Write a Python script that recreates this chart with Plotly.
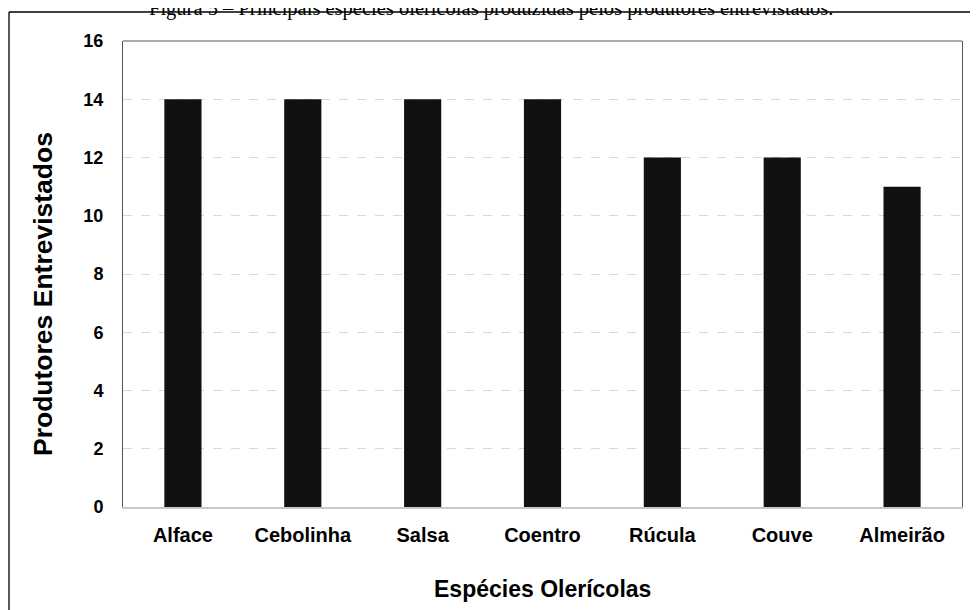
import plotly.graph_objects as go

categories = ["Alface", "Cebolinha", "Salsa", "Coentro", "Rúcula", "Couve", "Almeirão"]
values = [14, 14, 14, 14, 12, 12, 11]
y_ticks = [0, 2, 4, 6, 8, 10, 12, 14, 16]

W, H = 978, 610
OFF = 8  # page body margin
L, R, T, B = 123 - OFF, 978 - 962 + OFF, 41 - OFF, 610 - 507 + OFF
pw, ph = W - L - R, H - T - B

def px_x(x):
    return (x - OFF - L) / pw

def px_y(y):
    return (H - B - (y - OFF)) / ph

fig = go.Figure(go.Bar(x=categories, y=values, marker=dict(color="#111111", line=dict(width=0))))

fig.update_layout(
    width=W, height=H,
    margin=dict(l=L, r=R, t=T, b=B),
    paper_bgcolor="white", plot_bgcolor="white",
    bargap=0.69,
    showlegend=False,
    font=dict(family="Liberation Sans, Arial, sans-serif", color="black"),
)
fig.update_xaxes(
    showgrid=False, showline=True, linecolor="#c8c8c8", linewidth=2,
    ticks="", tickfont=dict(size=20, family="Liberation Sans, Arial", color="black", weight="bold"),
    ticklabelstandoff=9,
)
fig.update_yaxes(
    range=[0, 16], tickvals=y_ticks, showgrid=True, gridcolor="#d9d9d9", griddash="dash", gridwidth=1,
    showline=True, linecolor="#555555", linewidth=1, mirror=True, zeroline=False,
    ticks="", tickfont=dict(size=18, family="Liberation Sans, Arial", color="black", weight="bold"),
    ticklabelstandoff=15,
)
shapes = [
    dict(type="line", xref="paper", yref="paper", x0=0, x1=1, y0=1, y1=1, line=dict(color="#555555", width=1)),
    dict(type="line", xref="paper", yref="paper", x0=px_x(9), x1=px_x(9), y0=px_y(12), y1=px_y(640), line=dict(color="black", width=1.3)),
    dict(type="line", xref="paper", yref="paper", x0=px_x(9), x1=px_x(1000), y0=px_y(12), y1=px_y(12), line=dict(color="black", width=1.3)),
]
fig.update_layout(shapes=shapes)
fig.add_annotation(
    text="Figura 5 – Principais espécies olerícolas produzidas pelos produtores entrevistados.",
    xref="paper", yref="paper", x=px_x(491), y=px_y(9), xanchor="center", yanchor="middle",
    showarrow=False, font=dict(family="Liberation Serif, Times New Roman", size=20.5, color="black"),
)
fig.add_annotation(
    text="<b>Produtores Entrevistados</b>", xref="paper", yref="paper",
    x=px_x(43), y=px_y(294), xanchor="center", yanchor="middle", textangle=-90,
    showarrow=False, font=dict(size=26.5, color="black"),
)
fig.add_annotation(
    text="<b>Espécies Olerícolas</b>", xref="paper", yref="paper",
    x=px_x(542), y=px_y(589), xanchor="center", yanchor="middle",
    showarrow=False, font=dict(size=23, color="black"),
)

fig.write_html("out.html")
